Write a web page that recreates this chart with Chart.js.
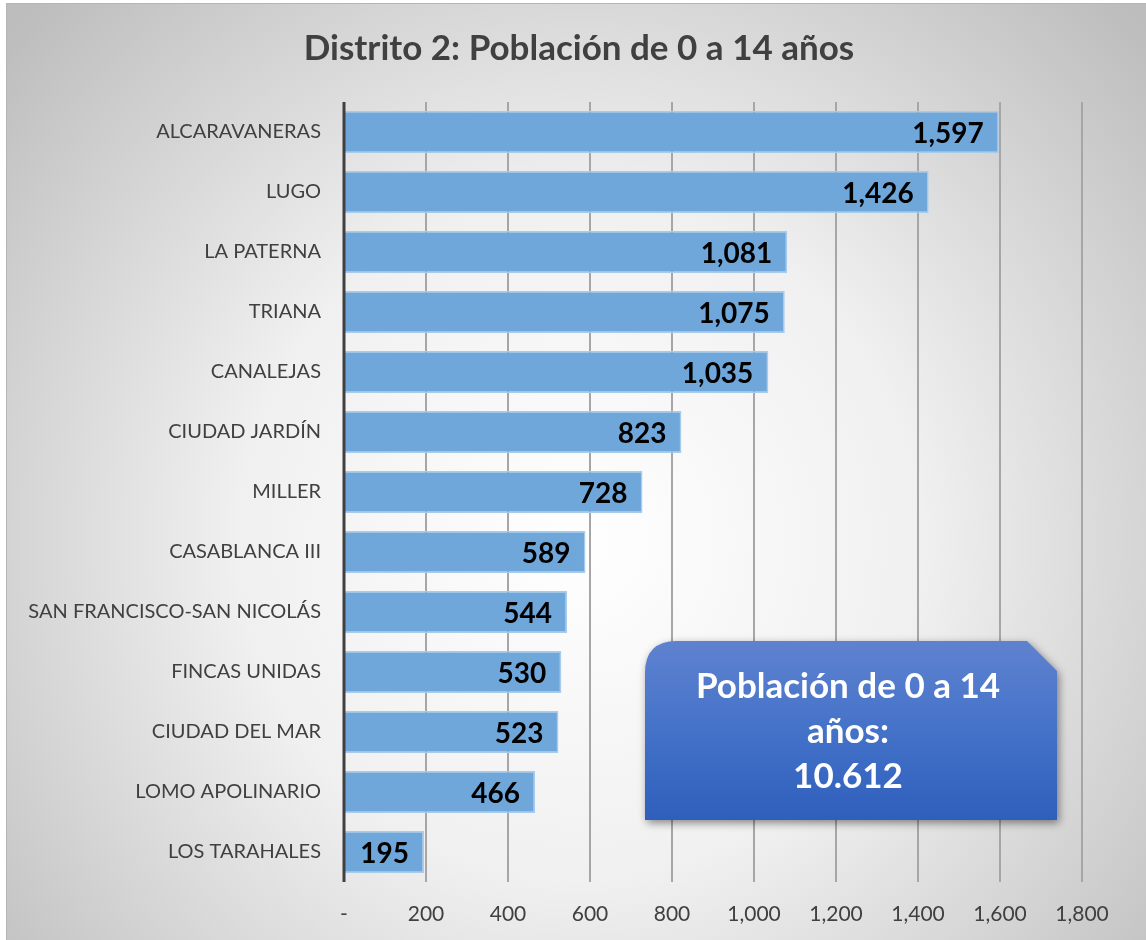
<!DOCTYPE html>
<html lang="es">
<head>
  <meta charset="UTF-8" />
  <title>Distrito 2: Población de 0 a 14 años</title>
  <script src="https://cdn.jsdelivr.net/npm/chart.js"></script>
  <style>
    body {
      margin: 0;
      background: #fff;
      font-family: Lato, sans-serif;
    }
    .wrap {
      width: 1146px;
      height: 940px;
    }
  </style>
</head>
<body>
<div class="wrap">
  <canvas id="barChart" width="1146" height="940"></canvas>
</div>

<script>
const barrios = ["ALCARAVANERAS", "LUGO", "LA PATERNA", "TRIANA", "CANALEJAS", "CIUDAD JARDÍN", "MILLER",
  "CASABLANCA III", "SAN FRANCISCO-SAN NICOLÁS", "FINCAS UNIDAS", "CIUDAD DEL MAR", "LOMO APOLINARIO", "LOS TARAHALES"];
const poblacion = [1597, 1426, 1081, 1075, 1035, 823, 728, 589, 544, 530, 523, 466, 195];
const titulo = "Distrito 2: Población de 0 a 14 años";
const calloutLines = ["Población de 0 a 14", "años:", "10.612"];

const fontName = "Lato, 'Open Sans', sans-serif";

// fondo gris con degradado radial + titulo centrado en todo el ancho
const fondo = {
  id: 'fondo',
  beforeDraw(chart) {
    const c = chart.ctx;
    const w = chart.width, h = chart.height;
    c.save();
    c.fillStyle = "#fff";
    c.fillRect(0, 0, w, h);
    const g = c.createRadialGradient(580, 540, 0, 580, 540, 760);
    g.addColorStop(0, "#ffffff");
    g.addColorStop(0.45, "#f0f0f0");
    g.addColorStop(1, "#bdbdbd");
    c.fillStyle = g;
    c.fillRect(7, 4, w - 7, h - 4);
    c.strokeStyle = "#b5b5b5";
    c.lineWidth = 1;
    c.strokeRect(6.5, 3.5, w, h);

    c.fillStyle = "#404040";
    c.font = "bold 35px " + fontName;
    c.textAlign = "center";
    c.textBaseline = "middle";
    c.fillText(titulo, 579, 49);
    c.restore();
  }
};

// etiquetas de valor dentro del final de cada barra
const etiquetas = {
  id: 'etiquetas',
  afterDatasetsDraw(chart) {
    const c = chart.ctx;
    const meta = chart.getDatasetMeta(0);
    c.save();
    c.font = "bold 28px " + fontName;
    c.fillStyle = "#000";
    c.textAlign = "right";
    c.textBaseline = "middle";
    meta.data.forEach((bar, i) => {
      c.fillText(poblacion[i].toLocaleString("en-US"), bar.x - 15, bar.y + 2);
    });
    c.restore();
  }
};

// caja azul con el total
const caja = {
  id: 'caja',
  afterDraw(chart) {
    const c = chart.ctx;
    const x = 645, y = 641, w = 412, h = 179, r = 32, cut = 30;
    c.save();
    c.beginPath();
    c.moveTo(x + r, y);
    c.lineTo(x + w - cut, y);
    c.lineTo(x + w, y + cut);
    c.lineTo(x + w, y + h);
    c.lineTo(x, y + h);
    c.lineTo(x, y + r);
    c.quadraticCurveTo(x, y, x + r, y);
    c.closePath();
    c.shadowColor = "rgba(0,0,0,0.45)";
    c.shadowBlur = 8;
    c.shadowOffsetX = 2;
    c.shadowOffsetY = 3;
    const g = c.createLinearGradient(0, y, 0, y + h);
    g.addColorStop(0, "#5f82cf");
    g.addColorStop(0.5, "#4472c9");
    g.addColorStop(1, "#2f5fbc");
    c.fillStyle = g;
    c.fill();
    c.shadowColor = "transparent";
    c.fillStyle = "#fff";
    c.font = "bold 35px " + fontName;
    c.textAlign = "center";
    c.textBaseline = "middle";
    calloutLines.forEach((t, i) => {
      c.fillText(t, x + w / 2 - 3, 687 + i * 45);
    });
    c.restore();
  }
};

// eje vertical oscuro en el cero
const ejeY = {
  id: 'ejeY',
  afterDatasetsDraw(chart) {
    const c = chart.ctx;
    const a = chart.chartArea;
    c.save();
    c.strokeStyle = "#404040";
    c.lineWidth = 3;
    c.beginPath();
    c.moveTo(a.left, a.top);
    c.lineTo(a.left, a.bottom);
    c.stroke();
    c.restore();
  }
};

new Chart(document.getElementById("barChart"), {
  type: 'bar',
  data: {
    labels: barrios,
    datasets: [{
      data: poblacion,
      backgroundColor: "#6fa7db",
      borderColor: "#a8cbec",
      borderWidth: 1.5,
      categoryPercentage: 1,
      barPercentage: 0.7
    }]
  },
  options: {
    indexAxis: 'y',
    responsive: false,
    animation: false,
    layout: { padding: { left: 0, right: 64, top: 102, bottom: 0 } },
    plugins: {
      legend: { display: false },
      tooltip: { enabled: false },
      title: { display: false }
    },
    scales: {
      x: {
        min: 0,
        max: 1800,
        ticks: {
          stepSize: 200,
          color: "#404040",
          font: { family: fontName, size: 21 },
          padding: 20,
          callback: v => v === 0 ? "-" : v.toLocaleString("en-US")
        },
        grid: { color: "#a6a6a6", lineWidth: 2, drawTicks: false },
        border: { display: false },
        afterFit(s) { s.height = 58; }
      },
      y: {
        ticks: {
          color: "#404040",
          font: { family: fontName, size: 20 },
          padding: 15
        },
        grid: { display: false },
        border: { display: false },
        afterFit(s) { s.width = 344; }
      }
    }
  },
  plugins: [fondo, ejeY, etiquetas, caja]
});
</script>
</body>
</html>
